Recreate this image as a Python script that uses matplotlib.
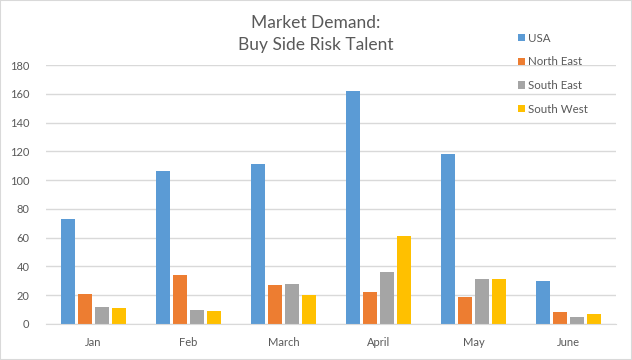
import matplotlib
matplotlib.use("Agg")
import matplotlib.pyplot as plt
import numpy as np
from matplotlib.patches import Rectangle

plt.rcParams['font.family'] = ['Lato', 'DejaVu Sans']

months = ["Jan", "Feb", "March", "April", "May", "June"]
series_names = ["USA", "North East", "South East", "South West"]
usa = [73, 106, 111, 162, 118, 30]
north_east = [21, 34, 27, 22, 19, 8]
south_east = [12, 10, 28, 36, 31, 5]
south_west = [11, 9, 20, 61, 31, 7]
colors = ["#5B9BD5", "#ED7D31", "#A5A5A5", "#FFC000"]
yticks = [0, 20, 40, 60, 80, 100, 120, 140, 160, 180]

fig = plt.figure(figsize=(6.32, 3.6), dpi=100)
fig.patches.append(Rectangle((0, 0), 1, 1, transform=fig.transFigure, fill=False,
                             edgecolor="#d9d9d9", linewidth=1.5))
ax = fig.add_axes([46/632, 1 - 324/360, 570/632, 259/360])

x = np.arange(len(months))
pitch = 0.179
width = 0.147
data = [usa, north_east, south_east, south_west]
for i, (vals, name, c) in enumerate(zip(data, series_names, colors)):
    ax.bar(x + (i - 1.5) * pitch, vals, width=width, color=c, label=name, zorder=3)

ax.set_xlim(-0.5, len(months) - 0.5)
ax.set_ylim(0, 180)
ax.set_yticks(yticks)
ax.set_xticks(x)
ax.set_xticklabels(months)
ax.tick_params(axis='both', length=0, labelsize=8, labelcolor="#595959")
ax.tick_params(axis='x', pad=9)
ax.tick_params(axis='y', pad=12)
for lbl in ax.get_yticklabels():
    lbl.set_horizontalalignment('right')
ax.grid(axis='y', color="#d9d9d9", linewidth=1, zorder=0)
for s in ['top', 'right', 'left']:
    ax.spines[s].set_visible(False)
ax.spines['bottom'].set_color("#d9d9d9")
ax.spines['bottom'].set_zorder(4)

fig.text(316/632, 1 - 23/360, "Market Demand:", ha='center', va='center', fontsize=12.5, color="#595959")
fig.text(316/632, 1 - 45/360, "Buy Side Risk Talent", ha='center', va='center', fontsize=12.5, color="#595959")

leg = ax.legend(loc='upper left', bbox_to_anchor=(513/632, 1 - 28/360), bbox_transform=fig.transFigure,
                frameon=False, fontsize=8.3, handlelength=0.6, handleheight=0.6, handletextpad=0.3,
                labelspacing=1.1, borderaxespad=0)
for t in leg.get_texts():
    t.set_color("#595959")

fig.savefig("out.png", dpi=100)
